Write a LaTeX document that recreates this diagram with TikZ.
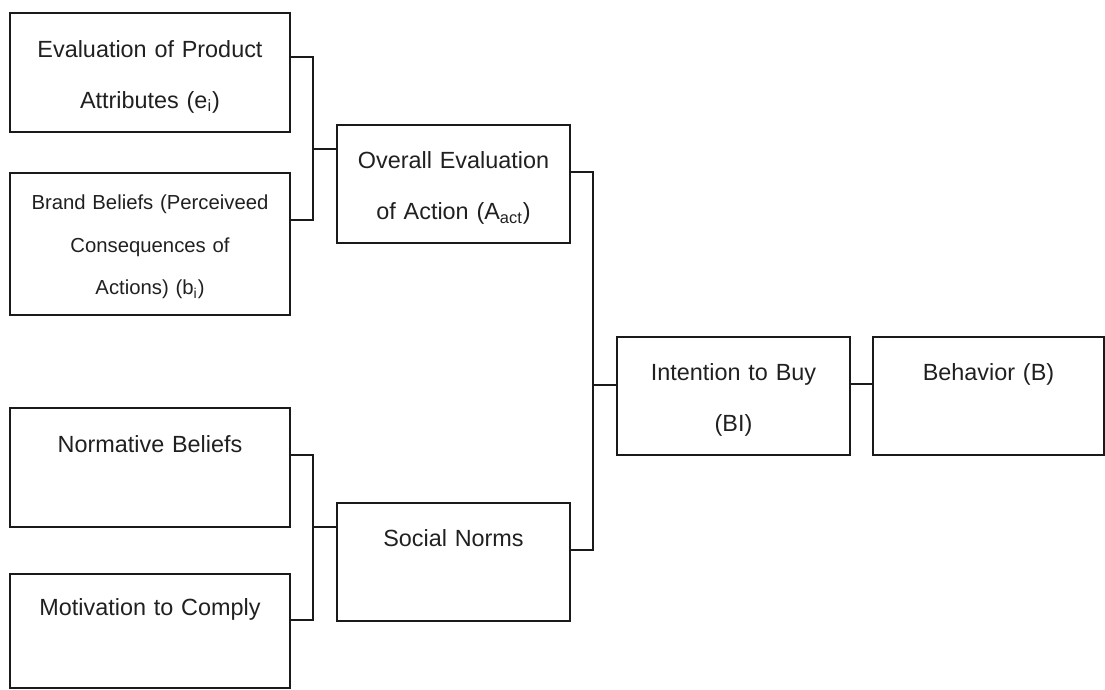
\documentclass[tikz,border=0pt]{standalone}
\usepackage{fontspec}
\setmainfont{Liberation Sans}
\definecolor{linec}{HTML}{1A1A1A}
\definecolor{txtc}{HTML}{202020}
\begin{document}
\begin{tikzpicture}[x=0.5pt,y=-0.5pt,
  box/.style={draw=linec, line width=1.4pt, inner sep=0pt, align=center, text=txtc,
    font=\fontsize{11.7pt}{25.5pt}\selectfont},
  smallbox/.style={box, font=\fontsize{10.15pt}{21.25pt}\selectfont},
  wide/.style={minimum width=140pt, text width=134pt},
  mid/.style={minimum width=116.5pt, text width=110pt},
  wire/.style={draw=linec, line width=1.4pt, line join=miter}]
\useasboundingbox (0,0) rectangle (1105,690);

% left column: inputs
\node[box, wide, minimum height=59.5pt] (e1) at (150,72.5)
  {\strut Evaluation of Product\\\strut Attributes (e\textsubscript{i})};
\node[smallbox, wide, minimum height=71pt] (b1) at (150,244)
  {\strut Brand Beliefs (Perceiveed\\\strut Consequences of\\\strut Actions) (b\textsubscript{i})};
\node[box, wide, minimum height=59.5pt] (nb) at (150,467.5)
  {\strut Normative Beliefs\\\strut};
\node[box, wide, minimum height=57pt] (mc) at (150,631)
  {\strut Motivation to Comply\\\strut};

% middle column
\node[box, mid, minimum height=59pt] (aact) at (453.5,184)
  {\strut Overall Evaluation\\\strut of Action (A\textsubscript{act})};
\node[box, mid, minimum height=59pt] (sn) at (453.5,562)
  {\strut Social Norms\\\strut};

% right column
\node[box, mid, minimum height=59pt] (bi) at (733.5,396)
  {\strut Intention to Buy\\\strut (BI)};
\node[box, minimum width=115.5pt, text width=109pt, minimum height=59pt] (beh) at (988.5,396)
  {\strut Behavior (B)\\\strut};

% junction points of the bracket connectors
\coordinate (ja) at (313,57);
\coordinate (jb) at (313,220);
\coordinate (jm) at (313,149);
\coordinate (jc) at (593,172);
\coordinate (jd) at (593,550);
\coordinate (je) at (593,385);
\coordinate (jf) at (861,384);
\coordinate (jg) at (313,455);
\coordinate (jh) at (313,620);
\coordinate (ji) at (313,527);

% attitude branch
\draw[wire] (e1.east |- ja) -- (ja) -- (jb) -- (b1.east |- jb);
\draw[wire] (jm) -- (aact.west |- jm);
% norms branch
\draw[wire] (nb.east |- jg) -- (jg) -- (jh) -- (mc.east |- jh);
\draw[wire] (ji) -- (sn.west |- ji);
% intention
\draw[wire] (aact.east |- jc) -- (jc) -- (jd) -- (sn.east |- jd);
\draw[wire] (je) -- (bi.west |- je);
% behaviour
\draw[wire] (bi.east |- jf) -- (beh.west |- jf);
\end{tikzpicture}
\end{document}
